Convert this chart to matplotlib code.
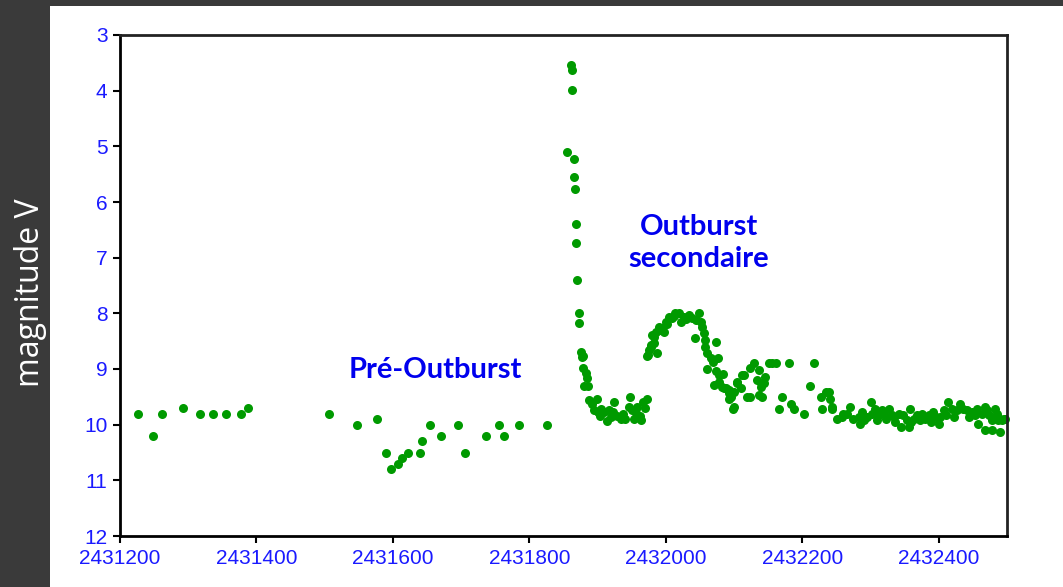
import matplotlib.pyplot as plt
from matplotlib.patches import Rectangle

# Julian dates and V magnitudes
jd_quiet = [2431226, 2431249, 2431261, 2431293, 2431317, 2431337, 2431356, 2431378,
            2431387, 2431506, 2431547, 2431576, 2431590, 2431597, 2431607, 2431614,
            2431622, 2431639, 2431643, 2431654, 2431671, 2431696, 2431705, 2431736,
            2431755, 2431763, 2431785, 2431826]
mag_quiet = [9.80, 10.20, 9.80, 9.70, 9.80, 9.80, 9.80, 9.80,
             9.70, 9.80, 10.00, 9.90, 10.50, 10.80, 10.70, 10.60,
             10.50, 10.50, 10.30, 10.00, 10.20, 10.00, 10.50, 10.20,
             10.00, 10.20, 10.00, 10.00]

jd_peak = [2431855, 2431861, 2431862, 2431863, 2431865, 2431866, 2431867, 2431869,
           2431869, 2431870, 2431872, 2431873, 2431875, 2431877, 2431879, 2431883,
           2431885, 2431880, 2431886, 2431878]
mag_peak = [5.10, 3.54, 3.62, 3.99, 5.23, 5.55, 5.76, 6.40,
            6.73, 7.40, 7.99, 8.17, 8.70, 8.79, 8.99, 9.08,
            9.17, 9.30, 9.30, 8.77]

jd_min = [2431888, 2431892, 2431899, 2431895, 2431900, 2431905, 2431910, 2431914,
          2431917, 2431924, 2431923, 2431929, 2431934, 2431940, 2431947, 2431946,
          2431951, 2431953, 2431958, 2431962, 2431966, 2431972, 2431964, 2431903,
          2431920, 2431937, 2431956, 2431969]
mag_min = [9.56, 9.63, 9.54, 9.74, 9.78, 9.71, 9.77, 9.93,
           9.74, 9.59, 9.78, 9.84, 9.89, 9.90, 9.50, 9.69,
           9.74, 9.90, 9.68, 9.84, 9.59, 9.54, 9.92, 9.85,
           9.86, 9.80, 9.79, 9.70]

jd_second = [2431974, 2431978, 2431983, 2431987, 2431973, 2431975, 2431978, 2431982,
             2431980, 2431985, 2431990, 2431995, 2431997, 2432000, 2432005, 2432009,
             2432014, 2432019, 2432022, 2432027, 2432034, 2432039, 2432044, 2432049,
             2432051, 2432053, 2432030, 2432012, 2432002, 2431992]
mag_second = [8.75, 8.60, 8.42, 8.71, 8.77, 8.66, 8.57, 8.54,
              8.39, 8.33, 8.24, 8.27, 8.33, 8.15, 8.06, 8.09,
              8.00, 8.00, 8.15, 8.06, 8.03, 8.09, 8.12, 8.00,
              8.15, 8.24, 8.10, 8.05, 8.20, 8.30]

jd_decline = [2432043, 2432056, 2432057, 2432058, 2432061, 2432074, 2432066, 2432069,
              2432077, 2432061, 2432074, 2432078, 2432084, 2432070, 2432078, 2432082,
              2432088, 2432092, 2432095, 2432100, 2432105, 2432110, 2432114, 2432119,
              2432100, 2432124, 2432129, 2432136, 2432134, 2432139, 2432141, 2432146,
              2432139, 2432144, 2432124, 2432151, 2432156, 2432161, 2432180, 2432217,
              2432170, 2432166, 2432183, 2432188, 2432202, 2432212, 2432227, 2432234,
              2432239, 2432229, 2432243, 2432085, 2432093, 2432098, 2432092, 2432105,
              2432112, 2432136]
mag_decline = [8.45, 8.36, 8.48, 8.60, 8.72, 8.51, 8.81, 8.87,
               8.81, 9.00, 9.03, 9.11, 9.09, 9.29, 9.23, 9.32,
               9.35, 9.38, 9.50, 9.41, 9.23, 9.35, 9.11, 9.50,
               9.68, 8.99, 8.90, 9.02, 9.20, 9.32, 9.50, 9.14,
               9.26, 9.26, 9.50, 8.90, 8.90, 8.90, 8.90, 8.90,
               9.50, 9.71, 9.62, 9.71, 9.80, 9.30, 9.50, 9.41,
               9.41, 9.71, 9.71, 9.35, 9.53, 9.71, 9.44, 9.26,
               9.11, 9.47]

jd_tail = [2432241, 2432244, 2432251, 2432258, 2432266, 2432270, 2432275, 2432283,
           2432287, 2432285, 2432300, 2432295, 2432302, 2432307, 2432312, 2432317,
           2432322, 2432327, 2432331, 2432336, 2432341, 2432344, 2432353, 2432356,
           2432358, 2432363, 2432368, 2432375, 2432380, 2432385, 2432392, 2432400,
           2432402, 2432407, 2432414, 2432419, 2432426, 2432431, 2432436, 2432441,
           2432448, 2432453, 2432458, 2432463, 2432468, 2432473, 2432478, 2432483,
           2432485, 2432487, 2432490, 2432492, 2432495, 2432468, 2432478, 2432490,
           2432260, 2432290, 2432310, 2432320, 2432335, 2432348, 2432360, 2432372,
           2432388, 2432396, 2432410, 2432422, 2432445, 2432456, 2432470, 2432482,
           2432497]
mag_tail = [9.53, 9.68, 9.89, 9.86, 9.80, 9.68, 9.89, 9.86,
            9.77, 9.98, 9.59, 9.86, 9.80, 9.71, 9.83, 9.74,
            9.89, 9.71, 9.83, 9.95, 9.80, 10.04, 9.92, 10.04,
            9.71, 9.89, 9.83, 9.80, 9.89, 9.83, 9.77, 9.98,
            9.86, 9.74, 9.59, 9.71, 9.74, 9.63, 9.71, 9.74,
            9.77, 9.83, 9.98, 9.80, 9.68, 9.83, 9.92, 9.71,
            9.80, 9.92, 9.89, 9.92, 9.89, 10.10, 10.10, 10.14,
            9.80, 9.92, 9.92, 9.80, 9.86, 9.83, 9.95, 9.92,
            9.95, 9.86, 9.83, 9.86, 9.86, 9.71, 9.74, 9.86,
            9.90]

xticks = [2431200, 2431400, 2431600, 2431800, 2432000, 2432200, 2432400]
yticks = [3, 4, 5, 6, 7, 8, 9, 10, 11, 12]

green = '#009a00'
blue = '#1a1aff'
label_blue = '#0000ee'

fig = plt.figure(figsize=(10.63, 5.87), dpi=100)
fig.patch.set_facecolor('#3a3a3a')
# white slide panel
fig.add_artist(Rectangle((50 / 1063, 0), 1 - 50 / 1063, 581 / 587,
                         transform=fig.transFigure, facecolor='white',
                         edgecolor='none', zorder=0))

ax = fig.add_axes([120 / 1063, 1 - 536 / 587, 887 / 1063, 501 / 587])
ax.set_facecolor('white')

for xs, ys in [(jd_quiet, mag_quiet), (jd_peak, mag_peak), (jd_min, mag_min),
               (jd_second, mag_second), (jd_decline, mag_decline), (jd_tail, mag_tail)]:
    ax.plot(xs, ys, 'o', color=green, ms=6.5, mec='none', clip_on=False)

ax.set_xlim(2431200, 2432500)
ax.set_ylim(12, 3)
ax.set_xticks(xticks)
ax.set_xticklabels([str(t) for t in xticks])
ax.set_yticks(yticks)

for side in ['left', 'bottom']:
    ax.spines[side].set_linewidth(2)
for side in ['top', 'right']:
    ax.spines[side].set_linewidth(2)
    ax.spines[side].set_color('#222222')

ax.tick_params(axis='both', direction='out', length=5, width=1.5,
               labelsize=15, labelcolor=blue, pad=4)
for lab in ax.get_xticklabels() + ax.get_yticklabels():
    lab.set_family('Liberation Sans')

ax.text(2431662, 9.02, 'Pré-Outburst', color=label_blue, fontsize=21,
        fontweight='bold', family='Lato', ha='center', va='center')
ax.text(2432048, 6.74, 'Outburst\nsecondaire', color=label_blue, fontsize=21,
        fontweight='bold', family='Lato', ha='center', va='center',
        linespacing=1.3)

fig.text(31 / 1063, 1 - 293 / 587, 'magnitude V', color='white', fontsize=23,
         family='Open Sans', rotation=90, ha='center', va='center')

fig.savefig('out.png', dpi=100, facecolor=fig.get_facecolor())
